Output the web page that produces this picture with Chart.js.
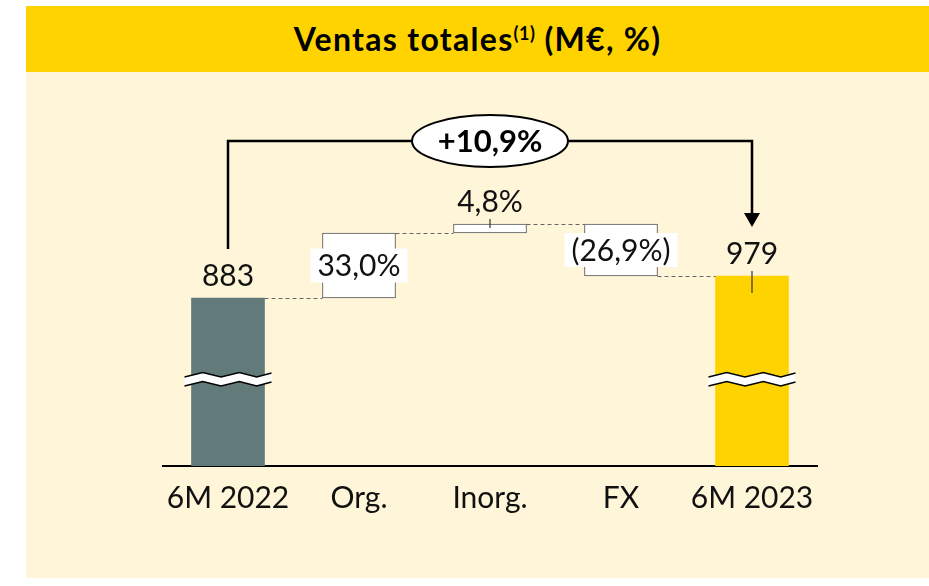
<!DOCTYPE html>
<html lang="es">
<head>
    <meta charset="UTF-8">
    <title>Ventas totales</title>
    <script src="https://cdn.jsdelivr.net/npm/chart.js"></script>
    <style>
        body { margin: 0; background: #fff; width: 929px; height: 586px; position: relative; overflow: hidden; }
        #fondo { position: absolute; left: 26px; top: 6px; width: 903px; height: 572px; background: #fff5d8; }
        #titulo {
            position: absolute; left: 26px; top: 6px; width: 903px; height: 66px;
            background: #ffd300; color: #000; text-align: center;
            font: bold 32px Lato, sans-serif; line-height: 66px; letter-spacing: 1.3px;
        }
        #titulo sup { font-size: 18px; vertical-align: 11px; line-height: 0; letter-spacing: 0.5px; }
        #grafica { position: absolute; left: 0; top: 0; }
    </style>
</head>
<body>
    <div id="fondo"></div>
    <div id="titulo">Ventas totales<sup>(1)</sup> (M€, %)</div>
    <canvas id="grafica" width="929" height="586"></canvas>

    <script>
        // Datos
        const categorias = ['6M 2022', 'Org.', 'Inorg.', 'FX', '6M 2023'];
        const ventas = [883, 979];            // M€, 6M 2022 y 6M 2023
        const variaciones = [33.0, 4.8, -26.9]; // %, Org., Inorg., FX
        const crecimiento = 10.9;              // % total

        // Niveles de la cascada (eje cortado, escala esquemática)
        const inicioBarra = [0, 168, 233, 242, 0];
        const finBarra = [168, 233, 242, 190, 190];

        const corteNivel = 86;      // donde se dibuja el corte del eje
        const nivelCorchete = 325;  // altura de la flecha +10,9%

        function pct(v) {
            const s = Math.abs(v).toFixed(1).replace('.', ',') + '%';
            return v < 0 ? '(' + s + ')' : s;
        }

        const etiquetas = [String(ventas[0])]
            .concat(variaciones.map(pct))
            .concat([String(ventas[1])]);

        const fuente = 'Lato, sans-serif';

        function dibujarCorte(ctx, bar, yc) {
            const x0 = bar.x - bar.width / 2 - 7;
            const w = bar.width + 14;
            const forma = [[0, 2], [0.21, -2.5], [0.42, 2], [0.63, -2.5], [0.83, 2], [1, -2]];
            const arriba = forma.map(p => [x0 + p[0] * w, yc - 5 + p[1]]);
            const abajo = forma.map(p => [x0 + p[0] * w, yc + 4 + p[1]]);
            ctx.beginPath();
            arriba.forEach((p, i) => i ? ctx.lineTo(p[0], p[1]) : ctx.moveTo(p[0], p[1]));
            abajo.slice().reverse().forEach(p => ctx.lineTo(p[0], p[1]));
            ctx.closePath();
            ctx.fillStyle = '#fff';
            ctx.fill();
            ctx.strokeStyle = '#000';
            ctx.lineWidth = 1.5;
            ctx.beginPath();
            arriba.forEach((p, i) => i ? ctx.lineTo(p[0], p[1]) : ctx.moveTo(p[0], p[1]));
            ctx.stroke();
            ctx.beginPath();
            abajo.forEach((p, i) => i ? ctx.lineTo(p[0], p[1]) : ctx.moveTo(p[0], p[1]));
            ctx.stroke();
        }

        const anotaciones = {
            id: 'anotaciones',
            afterDatasetsDraw(chart) {
                const ctx = chart.ctx;
                const y = chart.scales.y;
                const barras = chart.getDatasetMeta(0).data;
                ctx.save();

                // conectores punteados
                ctx.strokeStyle = '#666';
                ctx.lineWidth = 1;
                ctx.setLineDash([4, 3]);
                for (let i = 0; i < barras.length - 1; i++) {
                    const yy = Math.round(y.getPixelForValue(finBarra[i])) + 0.5;
                    ctx.beginPath();
                    ctx.moveTo(barras[i].x + barras[i].width / 2, yy);
                    ctx.lineTo(barras[i + 1].x - barras[i + 1].width / 2, yy);
                    ctx.stroke();
                }
                ctx.setLineDash([]);

                // cortes del eje en las barras de total
                [0, barras.length - 1].forEach(i => dibujarCorte(ctx, barras[i], y.getPixelForValue(corteNivel)));

                // etiquetas
                ctx.font = '30px ' + fuente;
                ctx.textAlign = 'center';
                barras.forEach((b, i) => {
                    const arriba = Math.min(b.y, b.base);
                    const abajo = Math.max(b.y, b.base);
                    const esTotal = i === 0 || i === barras.length - 1;
                    ctx.fillStyle = '#111';
                    if (esTotal || abajo - arriba < 40) {
                        ctx.textBaseline = 'alphabetic';
                        ctx.fillText(etiquetas[i], b.x, arriba - 12);
                        if (i > 0) {
                            ctx.strokeStyle = '#333';
                            ctx.lineWidth = 1.2;
                            ctx.beginPath();
                            ctx.moveTo(b.x, arriba - 5);
                            ctx.lineTo(b.x, arriba + (esTotal ? 17 : 4));
                            ctx.stroke();
                        }
                    } else {
                        const w = ctx.measureText(etiquetas[i]).width + 14;
                        const yc = (arriba + abajo) / 2;
                        ctx.fillStyle = '#fff';
                        ctx.fillRect(b.x - w / 2, yc - 17, w, 34);
                        ctx.fillStyle = '#111';
                        ctx.textBaseline = 'middle';
                        ctx.fillText(etiquetas[i], b.x, yc + 1);
                    }
                });

                // corchete con el crecimiento total
                const b0 = barras[0], b1 = barras[barras.length - 1];
                const yTop = y.getPixelForValue(nivelCorchete);
                const yIni = Math.min(b0.y, b0.base) - 49;
                const yFin = Math.min(b1.y, b1.base) - 49;
                ctx.strokeStyle = '#000';
                ctx.lineWidth = 2.5;
                ctx.beginPath();
                ctx.moveTo(b0.x, yIni);
                ctx.lineTo(b0.x, yTop);
                ctx.lineTo(b1.x, yTop);
                ctx.lineTo(b1.x, yFin - 12);
                ctx.stroke();
                ctx.fillStyle = '#000';
                ctx.beginPath();
                ctx.moveTo(b1.x - 8, yFin - 14);
                ctx.lineTo(b1.x + 8, yFin - 14);
                ctx.lineTo(b1.x, yFin);
                ctx.closePath();
                ctx.fill();

                const xm = (b0.x + b1.x) / 2;
                ctx.beginPath();
                ctx.ellipse(xm, yTop, 78, 26, 0, 0, Math.PI * 2);
                ctx.fillStyle = '#fff';
                ctx.fill();
                ctx.lineWidth = 2;
                ctx.stroke();
                ctx.fillStyle = '#000';
                ctx.font = 'bold 31px ' + fuente;
                ctx.textBaseline = 'middle';
                ctx.fillText('+' + pct(crecimiento), xm, yTop + 1);

                ctx.restore();
            }
        };

        const ctx = document.getElementById('grafica').getContext('2d');
        new Chart(ctx, {
            type: 'bar',
            data: {
                labels: categorias,
                datasets: [{
                    data: categorias.map((c, i) => [inicioBarra[i], finBarra[i]]),
                    backgroundColor: ['#627a7a', '#fff', '#fff', '#fff', '#ffd300'],
                    borderColor: '#555',
                    borderWidth: [0, 1, 1, 1, 0],
                    borderSkipped: false,
                    barThickness: 73
                }]
            },
            options: {
                responsive: false,
                animation: false,
                layout: { padding: { left: 162.5, right: 111.5, top: 126, bottom: 60 } },
                scales: {
                    x: {
                        grid: { display: false, drawTicks: false },
                        border: { color: '#000', width: 2 },
                        ticks: { color: '#111', font: { family: fuente, size: 30 }, padding: 14 },
                        afterFit: s => { s.height = 60; }
                    },
                    y: { display: false, min: 0, max: 340 }
                },
                plugins: { legend: { display: false }, tooltip: { enabled: false } }
            },
            plugins: [anotaciones]
        });
    </script>
</body>
</html>
